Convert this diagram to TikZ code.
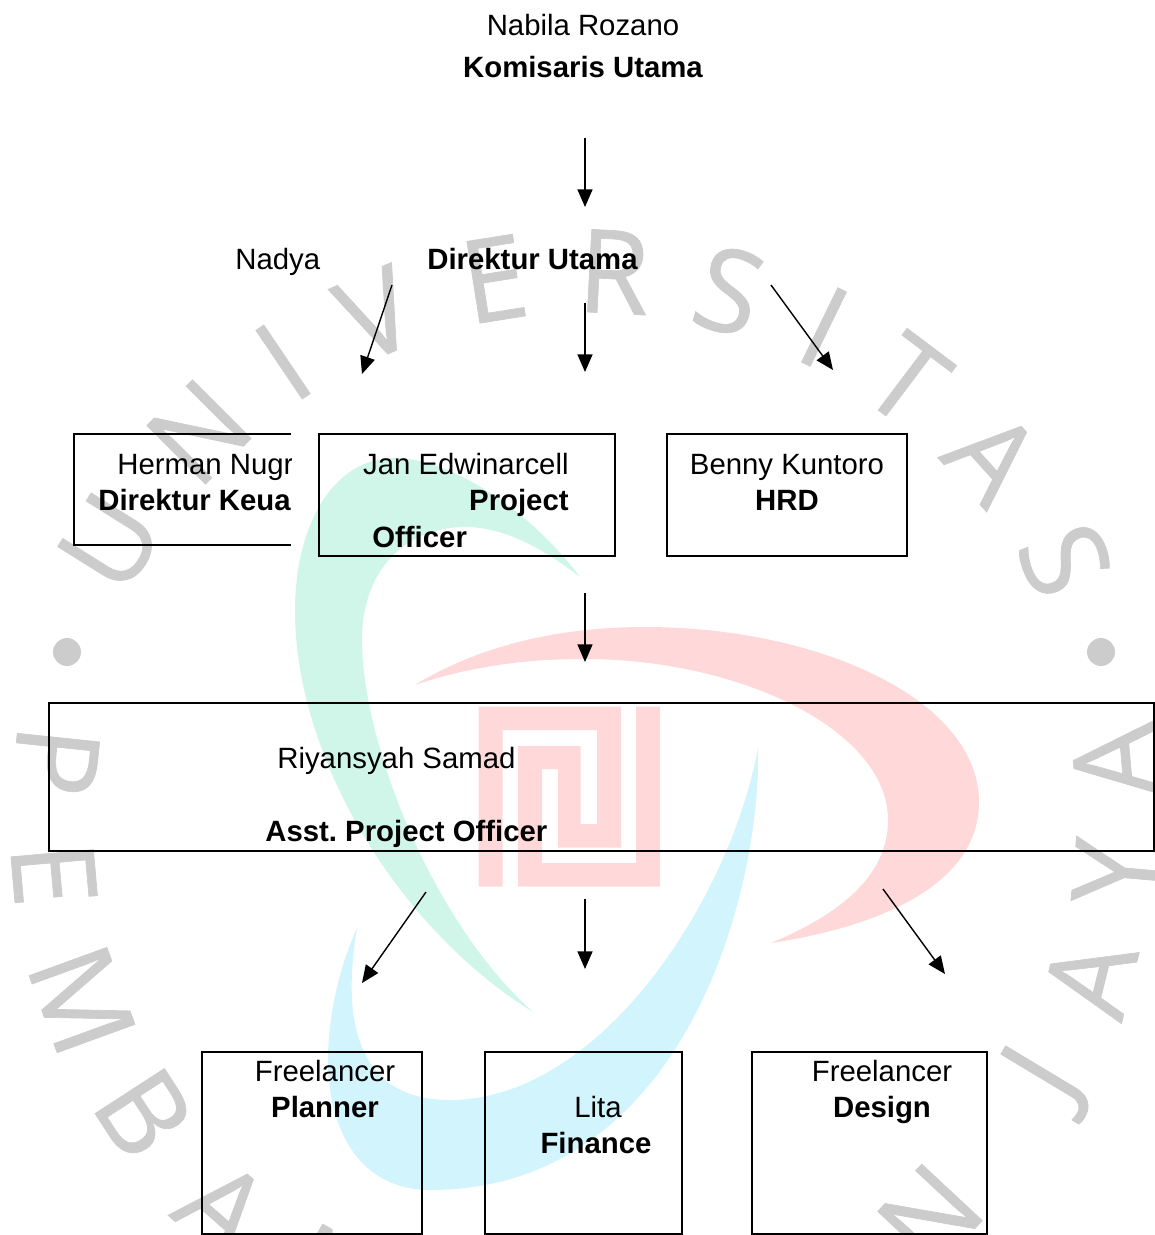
\documentclass[tikz,border=0pt]{standalone}
\usepackage{fontspec}
\setmainfont{Liberation Sans}
\newfontfamily\wmfont[RawFeature={embolden=0.6}]{Open Sans}
\usetikzlibrary{arrows.meta,positioning}
\definecolor{wmgray}{HTML}{CCCCCC}
\definecolor{wmgreen}{HTML}{D0F6E9}
\definecolor{wmred}{HTML}{FFD9D9}
\definecolor{wmblue}{HTML}{D1F4FD}
\tikzset{
	wmark/.style={font=\wmfont\fontsize{66}{66}\selectfont, text=wmgray, inner sep=0pt},
	txt/.style={font=\fontsize{16.7}{20}\selectfont, inner sep=0pt, anchor=base},
	btxt/.style={txt, font=\fontsize{16.7}{20}\selectfont\bfseries},
	namebox/.style={draw, line width=1.2pt, inner sep=0pt, outer sep=0pt},
	flow/.style={line width=0.8pt, -{Triangle[length=10pt,width=8.5pt]}},
}

\begin{document}
\begin{tikzpicture}[x=0.02cm,y=-0.02cm]
		\useasboundingbox (0,0) rectangle (1155,1235);
		\clip (0,0) rectangle (1155,1235);
		% watermark letters
		\foreach \px/\py/\rot/\letter [count=\i] in {
			110/542/58/U, 199/432/45/N, 283/362/34/I, 376/314/23/V, 494/279/9/E, 614/272/-3/R,
			729/291/-17/S, 824/327/-26/I, 907/380/-37/T, 993/457/-48/A, 1065/560/-68/S,
			56/761/-96/P, 54/874/-85/E, 82/1000/-70/M, 144/1113/-57/B, 223/1208/-41/A, 330/1276/-30/N,
			930/1216/47/N, 1048/1077/59/J, 1090/978/76/A, 1115/872/85/Y, 1115/761/95/A} {
			\node[wmark, rotate=\rot] (wm\i) at (\px,\py) {\letter};
		}
		\fill[wmgray] (67,652) circle (14) (1101,652) circle (14);
		% logo
		\fill[wmgreen] (580,577) .. controls (530,510) and (450,458) .. (395,458)
			.. controls (330,458) and (295,530) .. (295,610)
			.. controls (295,760) and (400,930) .. (533,1012)
			.. controls (430,920) and (362,740) .. (362,640)
			.. controls (362,570) and (405,527) .. (466,527)
			.. controls (505,527) and (545,550) .. (580,577);
		\fill[wmblue] (758,748) .. controls (762,880) and (690,1190) .. (430,1190)
			.. controls (360,1190) and (328,1130) .. (328,1060)
			.. controls (328,1015) and (340,965) .. (357,928)
			.. controls (345,1000) and (345,1100) .. (450,1100)
			.. controls (600,1100) and (730,900) .. (758,748);
		\fill[wmred] (415,685) .. controls (480,645) and (560,627) .. (645,627)
			.. controls (820,627) and (979,700) .. (979,802)
			.. controls (979,880) and (890,925) .. (771,943)
			.. controls (850,910) and (888,870) .. (888,820)
			.. controls (888,730) and (740,659) .. (584,659)
			.. controls (520,659) and (465,668) .. (415,685);
		\fill[wmred] (478.5,886.7) -- (478.5,706.7) -- (621,706.7) -- (621,847.7) -- (558,847.7)
			-- (558,769) -- (542,769) -- (542,863) -- (636,863) -- (636,706.7) -- (660,706.7)
			-- (660,886.7) -- (518,886.7) -- (518,746) -- (580.6,746) -- (580.6,824) -- (597,824)
			-- (597,730) -- (502.6,730) -- (502.6,886.7) -- cycle;
		% boxes
		\node[namebox, minimum width=5.92cm, minimum height=2.44cm] (jan) at (467,495) {};
		\node[namebox, minimum width=4.8cm, minimum height=2.44cm] (benny) at (787,495) {};
		\node[namebox, minimum width=22.1cm, minimum height=2.96cm] (riyansyah) at (601.5,777) {};
		\node[namebox, minimum width=4.4cm, minimum height=3.64cm] (planner) at (312,1143) {};
		\node[namebox, minimum width=3.94cm, minimum height=3.64cm] (lita) at (583.5,1143) {};
		\node[namebox, minimum width=4.7cm, minimum height=3.64cm] (design) at (869.5,1143) {};
		\draw[line width=1.2pt] (291,434) -- (74,434) -- (74,545) -- (291,545);
		% texts
		\node[txt] (nabila) at (583,35) {Nabila Rozano};
		\node[btxt] (komisaris) at (583,77) {Komisaris Utama};
		\node[txt, anchor=base west] (nadya) at (235,269) {Nadya};
		\node[btxt, anchor=base west] (direktur) at (427,269) {Direktur Utama};
		\begin{scope}
			\clip (60,440) rectangle (291,540);
			\node[txt, anchor=base west] (herman) at (117,474) {Herman Nugr};
			\node[btxt, anchor=base west] (keuangan) at (98,510) {Direktur Keua};
		\end{scope}
		\node[txt, anchor=base east] (jantext) at (569,474) {Jan Edwinarcell};
		\node[btxt, anchor=base east] (project) at (569,510) {Project};
		\node[btxt, anchor=base west] (officer) at (372,547) {Officer};
		\node[txt] (bennytext) at (787,474) {Benny Kuntoro};
		\node[btxt] (hrd) at (787,510) {HRD};
		\node[txt, anchor=base west] (riyantext) at (277,768) {Riyansyah Samad};
		\node[btxt, anchor=base west] (asst) at (265,841) {Asst.\ Project Officer};
		\node[txt] (freeplan) at (325,1081) {Freelancer};
		\node[btxt] (plantext) at (325,1117) {Planner};
		\node[txt] (litatext) at (598,1117) {Lita};
		\node[btxt] (finance) at (596,1153) {Finance};
		\node[txt] (freedesign) at (882,1081) {Freelancer};
		\node[btxt] (designtext) at (882,1117) {Design};
		% arrows
		\coordinate (komout) at (585,138);
		\coordinate (dirin) at (585,207);
		\coordinate (keuout) at (392,285);
		\coordinate (keuin) at (362,374);
		\coordinate (janout) at (585,303);
		\coordinate (janin) at (585,372);
		\coordinate (hrdout) at (771,285);
		\coordinate (hrdin) at (833,370);
		\coordinate (asstout) at (585,593);
		\coordinate (asstin) at (585,662);
		\coordinate (planout) at (426,892);
		\coordinate (planin) at (362,983);
		\coordinate (finout) at (585,899);
		\coordinate (finin) at (585,969);
		\coordinate (desout) at (883,889);
		\coordinate (desin) at (945,974);
		\draw[flow] (komout) -- (dirin);
		\draw[flow] (keuout) -- (keuin);
		\draw[flow] (janout) -- (janin);
		\draw[flow] (hrdout) -- (hrdin);
		\draw[flow] (asstout) -- (asstin);
		\draw[flow] (planout) -- (planin);
		\draw[flow] (finout) -- (finin);
		\draw[flow] (desout) -- (desin);
	\end{tikzpicture}
\end{document}
